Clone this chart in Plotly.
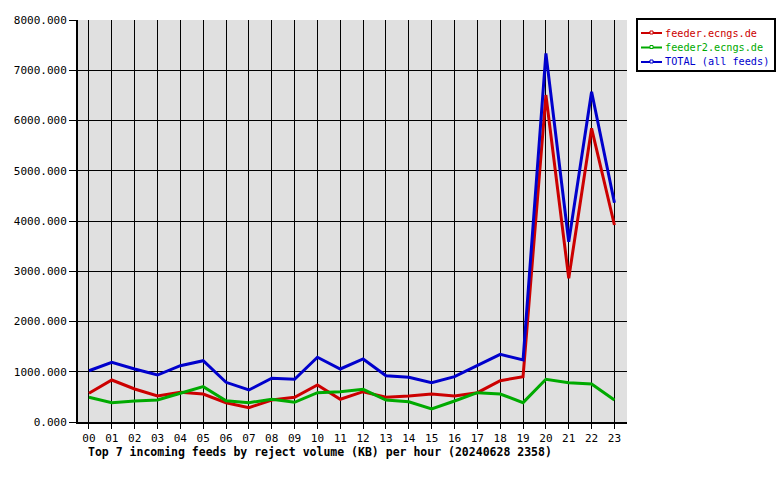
import plotly.graph_objects as go

hours = ["%02d" % h for h in range(24)]
feeder = [571, 836, 657, 517, 591, 557, 384, 285, 438, 491, 736, 452, 603, 491, 517, 557, 517, 583, 822, 902, 6507, 2860, 5845, 3920]
feeder2 = [491, 385, 418, 438, 571, 703, 424, 385, 452, 392, 583, 603, 650, 438, 404, 259, 418, 583, 557, 385, 850, 782, 756, 438]
total = [1020, 1188, 1055, 935, 1120, 1220, 790, 637, 870, 850, 1288, 1055, 1254, 922, 889, 782, 902, 1120, 1347, 1234, 7337, 3588, 6573, 4364]
names = ["feeder.ecngs.de", "feeder2.ecngs.de", "TOTAL (all feeds)"]
colors = ["#cc0000", "#00aa00", "#0000cc"]
series = [feeder, feeder2, total]
title = "Top 7 incoming feeds by reject volume (KB) per hour (20240628 2358)"
yticks = list(range(0, 8001, 1000))

FONT = "DejaVu Sans Mono"
xs = list(range(len(hours)))

# plot area in pixels
L, R, T, B = 78, 627, 20, 422
def px(x):
    return (x - L) / (R - L)
def py(y):
    return (B - y) / (B - T)

fig = go.Figure()
for vals, c, n in zip(series, colors, names):
    fig.add_trace(go.Scatter(x=xs, y=vals, mode="lines", line=dict(color=c, width=3),
                             name=n, showlegend=False, hoverinfo="skip"))

shapes = [dict(type="rect", xref="paper", yref="paper",
               x0=px(637), x1=px(775), y0=py(19), y1=py(71),
               line=dict(color="black", width=2), fillcolor="white", layer="above")]
annotations = []
for i, (n, c) in enumerate(zip(names, colors)):
    yy = 33 + i * 14.5
    shapes.append(dict(type="line", xref="paper", yref="paper",
                       x0=px(641), x1=px(662), y0=py(yy), y1=py(yy),
                       line=dict(color=c, width=2), layer="above"))
    shapes.append(dict(type="rect", xref="paper", yref="paper",
                       x0=px(650), x1=px(653), y0=py(yy - 2), y1=py(yy + 1),
                       line=dict(color=c, width=1), fillcolor="white", layer="above"))
    annotations.append(dict(text=n, x=px(663), y=py(yy), xref="paper", yref="paper",
                            xanchor="left", yanchor="middle", showarrow=False,
                            font=dict(family=FONT, size=10.2, color=c)))
annotations.append(dict(text="<b>%s</b>" % title,
                        x=px(86), y=py(452), xref="paper", yref="paper",
                        xanchor="left", yanchor="middle", showarrow=False,
                        font=dict(family=FONT, size=11.5)))

fig.update_layout(
    width=780, height=480,
    margin=dict(l=L, r=780 - R, t=T, b=480 - B, autoexpand=False),
    paper_bgcolor="white", plot_bgcolor="#e0e0e0",
    font=dict(family=FONT, size=10.5, color="black"),
    showlegend=False,
    xaxis=dict(range=[-0.48, 23.55], tickvals=xs, ticktext=hours,
               showgrid=True, gridcolor="black", gridwidth=1,
               showline=True, linecolor="black", linewidth=2, mirror=False,
               ticks="outside", ticklen=5, tickcolor="black", zeroline=False,
               tickfont=dict(family=FONT, size=11)),
    yaxis=dict(range=[0, 8000], tickvals=yticks, tickformat=".3f",
               showgrid=True, gridcolor="black", gridwidth=1,
               showline=True, linecolor="black", linewidth=2,
               ticks="outside", ticklen=7, tickcolor="black", zeroline=False,
               tickfont=dict(family=FONT, size=11)),
    shapes=shapes,
    annotations=annotations,
)
fig.write_html("out.html")
